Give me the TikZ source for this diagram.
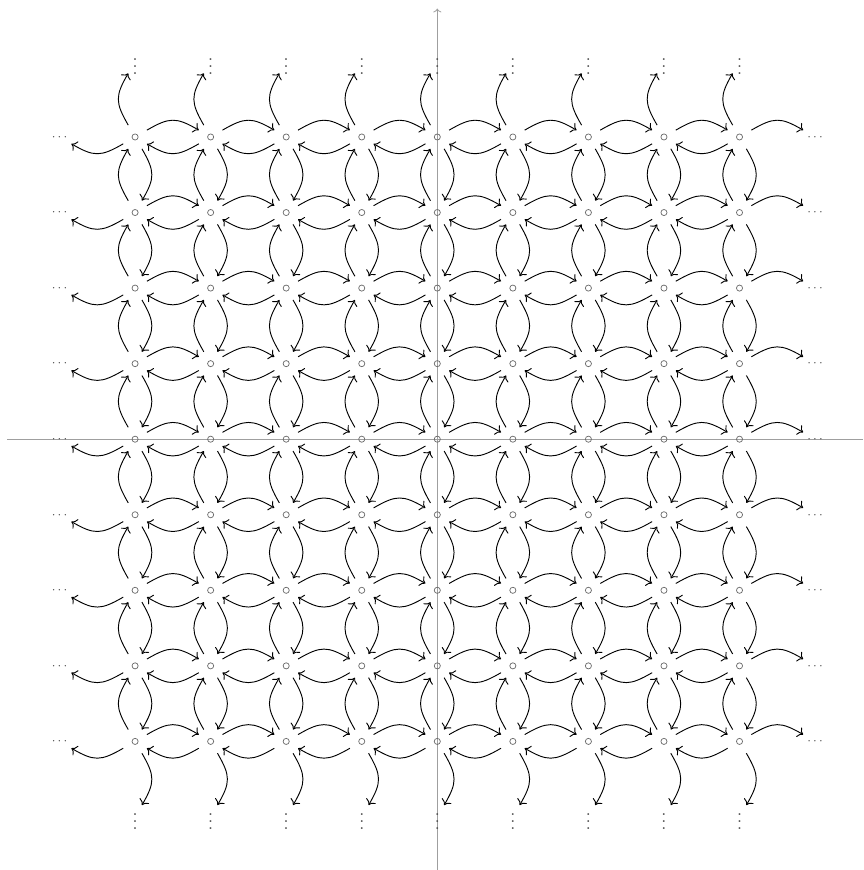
\documentclass[tikz,border=0pt]{standalone}
\usepackage{graphicx}
\usetikzlibrary{arrows.meta}
\begin{document}
\begin{tikzpicture}[x=2cm,y=2cm,
  site/.style={circle, draw=gray!85!black, line width=0.55pt, inner sep=0pt, minimum size=4.6pt, outer sep=8pt},
  dotsite/.style={circle, inner sep=0pt, minimum size=4.6pt, outer sep=8pt, text=gray!60!black},
  link/.style={-{To[scale=1.25]}, line width=0.7pt, bend left=30, looseness=1.3},
  axisline/.style={gray!75, line width=0.6pt}]
\useasboundingbox (-5.788,-5.702) rectangle (5.635,5.813);
\coordinate (axL) at (-5.692,0);
\coordinate (axR) at (5.64,0);
\coordinate (axB) at (0,-5.71);
\coordinate (axT) at (0,5.70);
\draw[axisline] (axL) -- (axR);
\draw[axisline,->] (axB) -- (axT);
\foreach \i in {0,...,8} {
  \foreach \j in {0,...,8} {
    \node[site] (n\i\j) at ({\i-4},{\j-4}) {};
  }
  \node[dotsite] (l\i) at (-5,{\i-4}) {\makebox[0pt]{\raisebox{-2.5pt}[0pt][0pt]{$\cdots$}}};
  \node[dotsite] (r\i) at (5,{\i-4}) {\makebox[0pt]{\raisebox{-2.5pt}[0pt][0pt]{$\cdots$}}};
  \node[dotsite] (t\i) at ({\i-4},5) {\makebox[0pt]{\raisebox{-9.8pt}[0pt][0pt]{\scalebox{1.35}{$\vdots$}}}};
  \node[dotsite] (b\i) at ({\i-4},-5) {\makebox[0pt]{\raisebox{-9.8pt}[0pt][0pt]{\scalebox{1.35}{$\vdots$}}}};
}
\foreach \i in {0,...,7} {
  \foreach \j in {0,...,8} {
    \pgfmathtruncatemacro\k{\i+1}
    \draw[link] (n\i\j) to (n\k\j);
    \draw[link] (n\k\j) to (n\i\j);
    \draw[link] (n\j\i) to (n\j\k);
    \draw[link] (n\j\k) to (n\j\i);
  }
}
\foreach \j in {0,...,8} {
  \draw[link] (n0\j) to (l\j);
  \draw[link] (n8\j) to (r\j);
  \draw[link] (n\j8) to (t\j);
  \draw[link] (n\j0) to (b\j);
}
\end{tikzpicture}
\end{document}
